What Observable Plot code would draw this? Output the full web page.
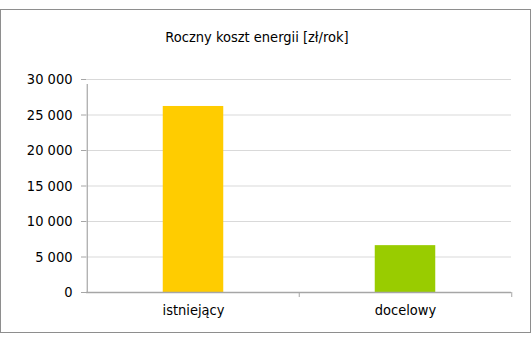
<!DOCTYPE html>
<html>
<head>
<meta charset="utf-8">
<script src="https://cdn.jsdelivr.net/npm/d3@7"></script>
<script src="https://cdn.jsdelivr.net/npm/@observablehq/plot@0.6"></script>
<style>
  html, body { margin: 0; padding: 0; background: #fff; }
  #wrap { position: relative; width: 532px; height: 338px; font-family: "DejaVu Sans Condensed", "DejaVu Sans", sans-serif; }
  #frame { position: absolute; left: 0px; top: 9px; width: 531px; height: 324px; border: 1px solid #8e8e8e; box-sizing: border-box; }
  #title { position: absolute; left: 0; top: 29px; width: 514px; text-align: center; font-size: 14.5px; color: #000; }
  #chart { position: absolute; left: 0; top: 0; }
</style>
</head>
<body>
<div id="wrap">
  <div id="frame"></div>
  <div id="title">Roczny koszt energii [zł/rok]</div>
  <div id="chart"></div>
</div>
<script>
const categories = ["istniejący", "docelowy"];
const values = [26200, 6600];
const colors = ["#FFCC00", "#99CC00"];
const yTicks = [0, 5000, 10000, 15000, 20000, 25000, 30000];

const data = categories.map((c, i) => ({category: c, value: values[i], color: colors[i]}));

const W = 532, H = 338;
const mL = 86, mR = 21, mT = 79, mB = 46;
const step = (W - mL - mR) / categories.length;
const barW = 61;
const inset = (step - barW) / 2;
const fmt = d => d3.format(",")(d).replace(/,/g, " ");
const FS = "14.5px";

const chart = Plot.plot({
  width: W,
  height: H,
  marginLeft: mL,
  marginRight: mR,
  marginTop: mT,
  marginBottom: mB,
  style: {fontFamily: "'DejaVu Sans Condensed', 'DejaVu Sans', sans-serif", fontSize: FS, color: "#000", background: "transparent"},
  x: {type: "band", domain: categories, padding: 0, label: null},
  y: {domain: [0, 30000], label: null},
  marks: [
    Plot.gridY(yTicks, {stroke: "#d9d9d9", strokeOpacity: 1}),
    Plot.barY(data, {x: "category", y: "value", fill: "color", insetLeft: inset, insetRight: inset}),
    Plot.axisY(yTicks, {tickFormat: fmt, tickSize: 5, tickPadding: 9, stroke: "#a6a6a6", fill: "#000", fontSize: FS}),
    Plot.ruleY([0], {stroke: "#a6a6a6", strokeWidth: 1.5}),
    Plot.ruleX(categories.slice(0, 1), {x: d => d, y1: 0, y2: 30000, insetBottom: -5, dx: -step / 2, stroke: "#a6a6a6", strokeWidth: 1.2}),
    Plot.ruleX(categories.slice(1), {x: d => d, y1: 0, y2: 0, insetBottom: -5, dx: -step / 2, stroke: "#a6a6a6"}),
    Plot.ruleX(categories.slice(-1), {x: d => d, y1: 0, y2: 0, insetBottom: -5, dx: step / 2, stroke: "#a6a6a6"}),
    Plot.axisX({tickSize: 0, tickPadding: 12, label: null, fill: "#000", fontSize: FS})
  ]
});
document.getElementById("chart").appendChild(chart);
</script>
</body>
</html>
